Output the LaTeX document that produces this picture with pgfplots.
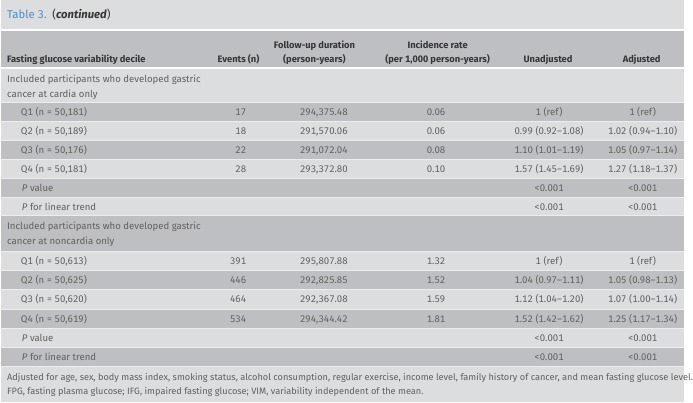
\documentclass[border=0pt]{standalone}
\usepackage{fontspec}
\setmainfont{Fira Sans}[Numbers={Lining,Monospaced}]
\usepackage{pgfplots}
\usepackage{pgfplotstable}
\pgfplotsset{compat=1.18}

\definecolor{bglight}{HTML}{DCDDDF}
\definecolor{bgdark}{HTML}{BEBFC2}
\definecolor{sepline}{HTML}{ECEDEE}
\definecolor{titleblue}{HTML}{4A8FCC}
\definecolor{bodytxt}{HTML}{606060}
\definecolor{headtxt}{HTML}{363636}

% row centres in pixels from the top; text columns
\pgfplotstableread[col sep=semicolon, row sep=\\]{
y;ev;fu;ir;un;ad\\
113.6;17;294,375.48;0.06;1 (ref);1 (ref)\\
132.8;18;291,570.06;0.06;0.99 (0.92–1.08);1.02 (0.94–1.10)\\
152.0;22;291,072.04;0.08;1.10 (1.01–1.19);1.05 (0.97–1.14)\\
171.2;28;293,372.80;0.10;1.57 (1.45–1.69);1.27 (1.18–1.37)\\
190.4;;;;<0.001;<0.001\\
209.6;;;;<0.001;<0.001\\
}\cardia

\pgfplotstableread[col sep=semicolon, row sep=\\]{
y;ev;fu;ir;un;ad\\
264.75;391;295,807.88;1.32;1 (ref);1 (ref)\\
284.25;446;292,825.85;1.52;1.04 (0.97–1.11);1.05 (0.98–1.13)\\
303.75;464;292,367.08;1.59;1.12 (1.04–1.20);1.07 (1.00–1.14)\\
323.25;534;294,344.42;1.81;1.52 (1.42–1.62);1.25 (1.17–1.34)\\
342.75;;;;<0.001;<0.001\\
362.25;;;;<0.001;<0.001\\
}\noncardia

\newcommand{\bodyfont}{\fontsize{7.3}{8}\selectfont}
\newcommand{\headfont}{\fontsize{7.1}{8}\selectfont\bfseries}

\tikzset{
  lbl/.style={font=\bodyfont, text=bodytxt, inner sep=0pt, anchor=mid west},
  hd/.style={font=\headfont, text=headtxt, inner sep=0pt, anchor=mid},
}

\pgfplotsset{
  cell/.style={draw=none, nodes near coords, point meta=explicit symbolic,
    nodes near coords style={font=\bodyfont, text=bodytxt, inner sep=0pt, anchor=#1}},
  band/.style={fill=#1, draw=none},
  rule/.style={draw=#1, line width=0.6pt},
}

\begin{document}
\begin{tikzpicture}
\begin{axis}[
  width=519.75pt, height=306pt, scale only axis,
  xmin=0, xmax=693, ymin=0, ymax=408, y dir=reverse,
  hide axis, clip=false,
]
% backgrounds
\addplot[band=bglight] coordinates {(0,0) (693,0) (693,408) (0,408)} -- cycle;
\addplot[band=bgdark] coordinates {(0,30) (693,30) (693,69) (0,69)} -- cycle;
\addplot[band=bgdark] coordinates {(0,104) (693,104) (693,123.2) (0,123.2)} -- cycle;
\addplot[band=bgdark] coordinates {(0,142.4) (693,142.4) (693,161.6) (0,161.6)} -- cycle;
\addplot[band=bgdark] coordinates {(0,180.8) (693,180.8) (693,200) (0,200)} -- cycle;
\addplot[band=bgdark] coordinates {(0,219) (693,219) (693,255) (0,255)} -- cycle;
\addplot[band=bgdark] coordinates {(0,274.5) (693,274.5) (693,294) (0,294)} -- cycle;
\addplot[band=bgdark] coordinates {(0,313.5) (693,313.5) (693,333) (0,333)} -- cycle;
\addplot[band=bgdark] coordinates {(0,352.5) (693,352.5) (693,372) (0,372)} -- cycle;

% white rules
\addplot[draw=white, line width=1.5pt] coordinates {(0,30) (693,30)};
\addplot[draw=white, line width=1.5pt] coordinates {(0,69) (693,69)};
\foreach \yy in {104,123.2,142.4,161.6,180.8,200,219,255,274.5,294,313.5,333,352.5,372} {
  \addplot[rule=sepline] coordinates {(0,\yy) (693,\yy)};
}

% title
\node[anchor=mid west, inner sep=0pt, font=\fontsize{8.6}{9}\selectfont] at (axis cs:6,15)
  {{\color{titleblue}Table 3.}\enspace{\color{headtxt}(\textbf{\textit{continued}})}};

% header
\node[hd, anchor=mid west] at (axis cs:6,60) {Fasting glucose variability decile};
\node[hd] at (axis cs:241,60) {Events (n)};
\node[hd] at (axis cs:318,46) {Follow-up duration};
\node[hd] at (axis cs:318,60) {(person-years)};
\node[hd] at (axis cs:443,46) {Incidence rate};
\node[hd] at (axis cs:443,60) {(per 1,000 person-years)};
\node[hd] at (axis cs:555,60) {Unadjusted};
\node[hd] at (axis cs:650,60) {Adjusted};

% row labels
\node[lbl] at (axis cs:6,80) {Included participants who developed gastric};
\node[lbl] at (axis cs:6,95) {cancer at cardia only};
\node[lbl] at (axis cs:20,113.6) {Q1 (n = 50,181)};
\node[lbl] at (axis cs:20,132.8) {Q2 (n = 50,189)};
\node[lbl] at (axis cs:20,152.0) {Q3 (n = 50,176)};
\node[lbl] at (axis cs:20,171.2) {Q4 (n = 50,181)};
\node[lbl] at (axis cs:21,190.4) {\textit{P} value};
\node[lbl] at (axis cs:21,209.6) {\textit{P} for linear trend};
\node[lbl] at (axis cs:6,229) {Included participants who developed gastric};
\node[lbl] at (axis cs:6,245) {cancer at noncardia only};
\node[lbl] at (axis cs:20,264.75) {Q1 (n = 50,613)};
\node[lbl] at (axis cs:20,284.25) {Q2 (n = 50,625)};
\node[lbl] at (axis cs:20,303.75) {Q3 (n = 50,620)};
\node[lbl] at (axis cs:20,323.25) {Q4 (n = 50,619)};
\node[lbl] at (axis cs:21,342.75) {\textit{P} value};
\node[lbl] at (axis cs:21,362.25) {\textit{P} for linear trend};

% table cells
\addplot[cell=mid east] table[x expr=249, y=y, meta=ev] {\cardia};
\addplot[cell=mid east] table[x expr=352, y=y, meta=fu] {\cardia};
\addplot[cell=mid east] table[x expr=451, y=y, meta=ir] {\cardia};
\addplot[cell=mid] table[x expr=556, y=y, meta=un] {\cardia};
\addplot[cell=mid] table[x expr=651, y=y, meta=ad] {\cardia};
\addplot[cell=mid east] table[x expr=249, y=y, meta=ev] {\noncardia};
\addplot[cell=mid east] table[x expr=352, y=y, meta=fu] {\noncardia};
\addplot[cell=mid east] table[x expr=451, y=y, meta=ir] {\noncardia};
\addplot[cell=mid] table[x expr=556, y=y, meta=un] {\noncardia};
\addplot[cell=mid] table[x expr=651, y=y, meta=ad] {\noncardia};

% footnote
\node[lbl, font=\fontsize{7.0}{8}\selectfont] at (axis cs:6,382) {Adjusted for age, sex, body mass index, smoking status, alcohol consumption, regular exercise, income level, family history of cancer, and mean fasting glucose level.};
\node[lbl, font=\fontsize{7.0}{8}\selectfont] at (axis cs:6,397) {FPG, fasting plasma glucose; IFG, impaired fasting glucose; VIM, variability independent of the mean.};
\end{axis}
\end{tikzpicture}
\end{document}
